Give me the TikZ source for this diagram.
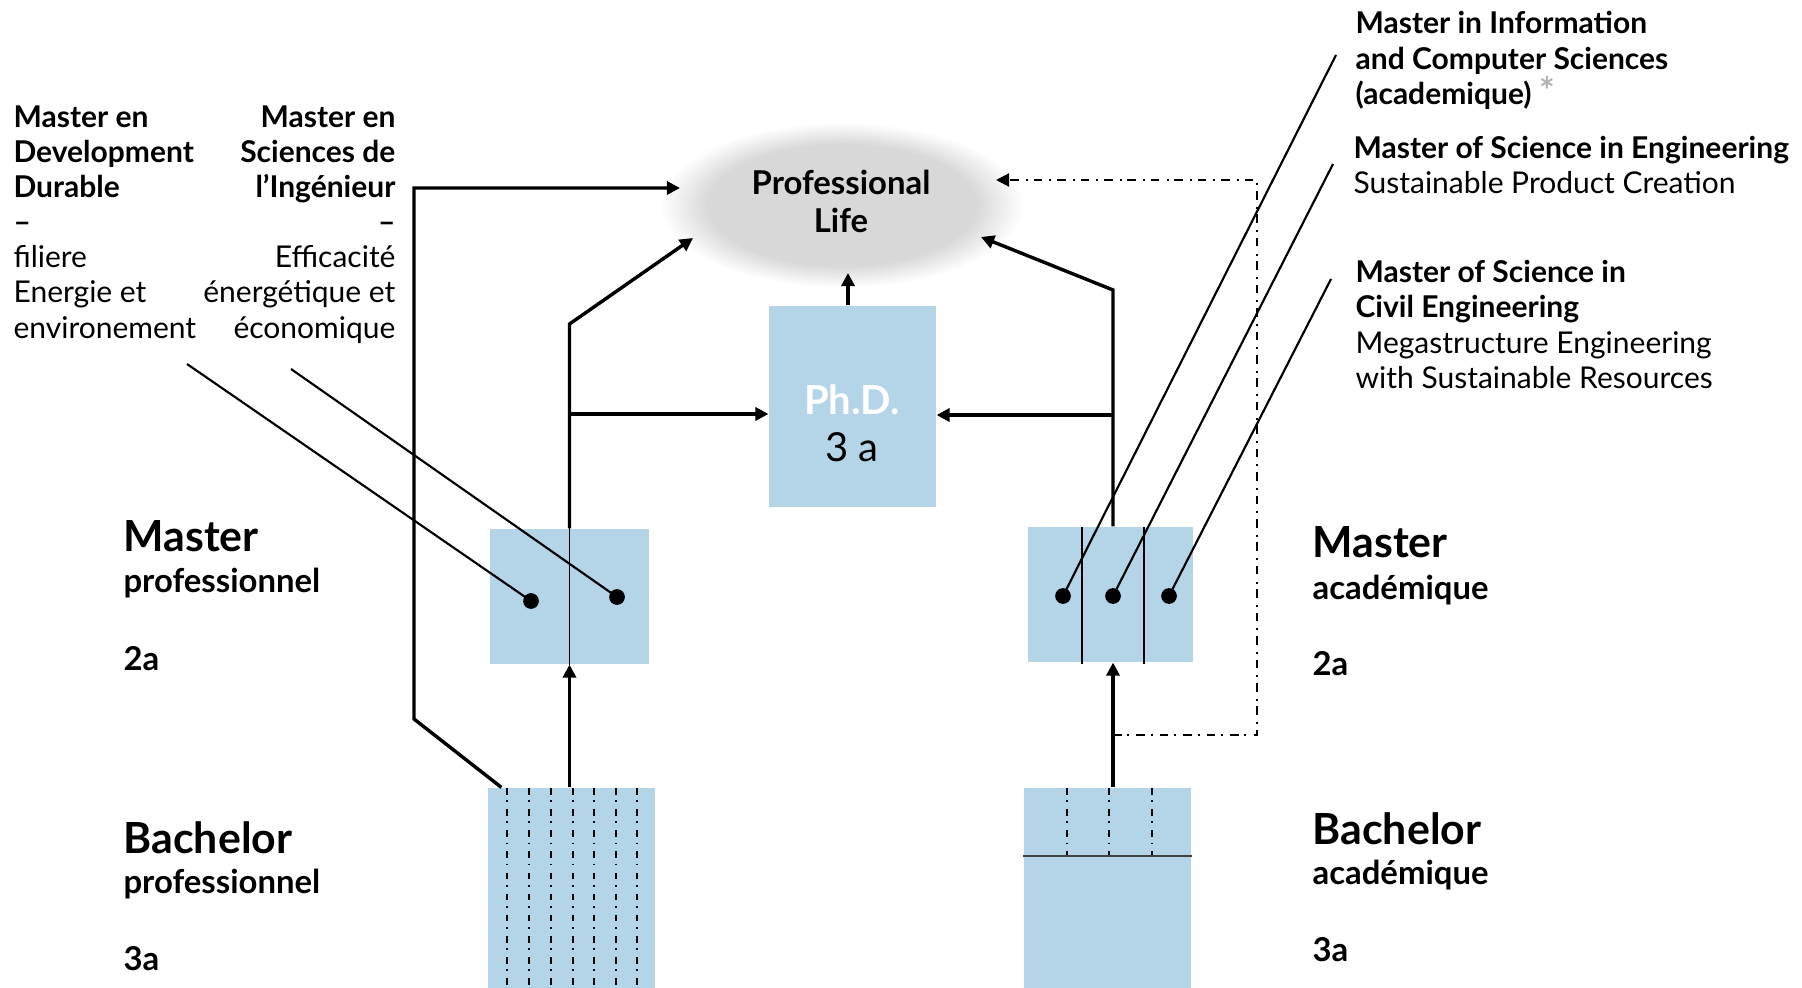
\documentclass[tikz,border=0pt]{standalone}
\usepackage{fontspec}
\setmainfont{Lato}
\usetikzlibrary{arrows.meta}
\usetikzlibrary{fit}
\usetikzlibrary{positioning}
\usetikzlibrary{shapes.geometric}
\definecolor{box-blue}{RGB}{180, 212, 232}
\definecolor{life-gray}{RGB}{216, 216, 216}
\pgfdeclareradialshading{lifeblur}{\pgfpoint{0bp}{0bp}}{color(0bp)=(life-gray); color(18bp)=(life-gray); color(24.5bp)=(white); color(50bp)=(white)}
\tikzset{
  prog/.style={fill=box-blue, draw=none, inner sep=0pt},
  flow/.style={line width=1.2pt, -{Triangle[length=4.6pt,width=4.6pt]}},
  leader/.style={line width=0.75pt},
  pin/.style={circle, fill=black, inner sep=0pt, minimum size=5.5pt},
  sep/.style={line width=0.6pt},
  track/.style={line width=0.5pt, dash pattern=on 2.3pt off 2pt on 0.6pt off 2.5pt},
  bridge/.style={line width=0.7pt, dash pattern=on 3pt off 2pt on 0.7pt off 2.5pt, -{Triangle[length=4.6pt,width=4.6pt]}},
  lbl/.style={inner sep=0pt, font=\fontsize{10.5}{12.3}\selectfont},
  level/.style={inner sep=0pt, anchor=base west, font=\fontsize{15}{18}\selectfont\bfseries},
  kind/.style={inner sep=0pt, anchor=base west, font=\fontsize{11.5}{13}\selectfont\bfseries},
}
\begin{document}
\begin{tikzpicture}[x=0.35pt,y=-0.35pt]
\useasboundingbox (0,0) rectangle (1802,988);

% programme blocks
\node[prog, fit={(488,788) (655,988)}] (bachP) {};
\node[prog, fit={(1024,788) (1191,988)}] (bachA) {};
\node[prog, fit={(490,529) (649,664)}] (mastP) {};
\node[prog, fit={(1028,527) (1193,662)}] (mastA) {};
\node[prog, fit={(769,306) (936,507)}] (phd) {};
\node[ellipse, shading=lifeblur, draw=none, minimum width=130pt, minimum height=59pt, inner sep=0pt] (life) at (842,205) {};

\node[anchor=north, align=center, inner sep=0pt, font=\fontsize{11.5}{13.3}\selectfont\bfseries] (lifetxt) at (841,170) {Professional\\Life};
\node[anchor=base, inner sep=0pt, text=white, font=\fontsize{14}{16}\selectfont\bfseries] (phdname) at (852,415) {Ph.D.};
\node[anchor=base, inner sep=0pt, font=\fontsize{14}{16}\selectfont] (phdlen) at (852,462) {3 a};

% tracks inside the blocks
\foreach \x in {507,529,551,573,594,616,637}
  \draw[track] (\x,788) -- (\x,988);
\foreach \x in {1067,1109,1152}
  \draw[track] (\x,788) -- (\x,856);
\draw[line width=0.5pt, black!75] (bachA.west |- 0,856) -- (bachA.east |- 0,856);
\draw[sep] (mastP.north) -- (mastP.south);
\draw[sep] (1082,527) -- (1082,664);
\draw[sep] (1144,527) -- (1144,664);

% paths
\coordinate (kneeL) at (414,719);
\coordinate (cornL) at (414,188);
\coordinate (lifeW) at (680,188);
\coordinate (bendL) at (569.5,324);
\coordinate (lifeSW) at (693,238);
\coordinate (brL) at (569.5,414);
\coordinate (bendR) at (1113,290);
\coordinate (lifeSE) at (981,237);
\coordinate (brR) at (1113,415);
\coordinate (lifeS) at (848,273);
\coordinate (loopB) at (1113,735);
\coordinate (loopT) at (1257,180);
\coordinate (lifeE) at (996,180);

\draw[flow] ([xshift=4.9pt]bachP.north west) -- (kneeL) -- (cornL) -- (lifeW);
\draw[flow] (mastP.south |- bachP.north) -- (mastP.south);
\draw[flow] (mastP.north) -- (bendL) -- (lifeSW);
\draw[flow] (brL) -- (brL -| phd.west);
\draw[flow] (bachA.north -| bendR) -- (mastA.south -| bendR);
\draw[flow] (mastA.north -| bendR) -- (bendR) -- (lifeSE);
\draw[flow] (brR) -- (brR -| phd.east);
\draw[flow] (phd.north -| lifeS) -- (lifeS);
\draw[bridge] (loopB) -- (loopB -| loopT) -- (loopT) -- (lifeE);

% programme pins
\node[pin] (dotDD) at (531,601) {};
\node[pin] (dotSI) at (617,597) {};
\node[pin] (dotIC) at (1063,596) {};
\node[pin] (dotSP) at (1113,596) {};
\node[pin] (dotCE) at (1169,596) {};
\coordinate (tagDD) at (187,364);
\coordinate (tagSI) at (291,369);
\coordinate (tagIC) at (1336,55);
\coordinate (tagSP) at (1333,164);
\coordinate (tagCE) at (1331,279);
\draw[leader] (tagDD) -- (dotDD.center);
\draw[leader] (tagSI) -- (dotSI.center);
\draw[leader] (tagIC) -- (dotIC.center);
\draw[leader] (tagSP) -- (dotSP.center);
\draw[leader] (tagCE) -- (dotCE.center);

% programme names
\node[lbl, anchor=north west, align=left] (ddtxt) at (13,105) {\textbf{Master en}\\\textbf{Development}\\\textbf{Durable}\\\textbf{--}\\filiere\\Energie et\\environement};
\node[lbl, anchor=north east, align=right] (sitxt) at (396,105) {\textbf{Master en}\\\textbf{Sciences de}\\\textbf{l’Ingénieur}\\\textbf{--}\\Efficacité\\énergétique et\\économique};
\node[lbl, anchor=north west, align=left] (ictxt) at (1355,11) {\textbf{Master in Information}\\\textbf{and Computer Sciences}\\\textbf{(academique)} \textcolor{black!30}{\textbf{\fontsize{13}{12.3}\selectfont *}}};
\node[lbl, anchor=north west, align=left] (sptxt) at (1353,136) {\textbf{Master of Science in Engineering}\\Sustainable Product Creation};
\node[lbl, anchor=north west, align=left] (cetxt) at (1355,260) {\textbf{Master of Science in}\\\textbf{Civil Engineering}\\Megastructure Engineering\\with Sustainable Resources};

% levels
\node[level] (mpH) at (123,552) {Master};
\node[kind] (mpK) at (123,592) {professionnel};
\node[kind] (mpY) at (123,670) {2a};
\node[level] (bpH) at (123,853) {Bachelor};
\node[kind] (bpK) at (123,893) {professionnel};
\node[kind] (bpY) at (123,970) {3a};
\node[level] (maH) at (1312,558) {Master};
\node[kind] (maK) at (1312,599) {académique};
\node[kind] (maY) at (1312,675) {2a};
\node[level] (baH) at (1312,844) {Bachelor};
\node[kind] (baK) at (1312,884) {académique};
\node[kind] (baY) at (1312,961) {3a};
\end{tikzpicture}
\end{document}
